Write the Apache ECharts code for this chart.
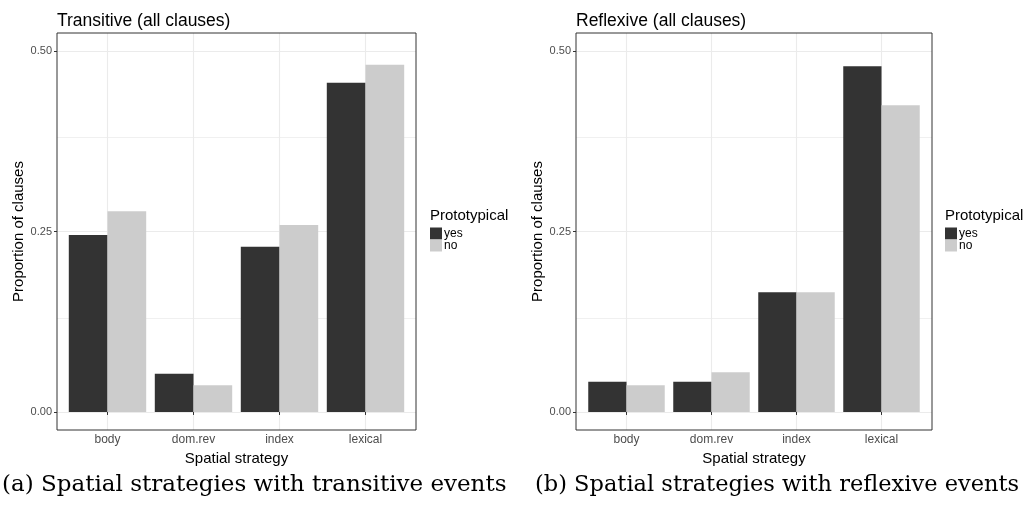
<!DOCTYPE html>
<html>
<head>
<meta charset="utf-8">
<script src="https://cdn.jsdelivr.net/npm/echarts@6/dist/echarts.min.js"></script>
<style>
html,body{margin:0;padding:0;background:#fff;}
#chart{width:1028px;height:506px;}
</style>
</head>
<body>
<div id="chart"></div>
<script>
// ---- data ----
const categories = ['body', 'dom.rev', 'index', 'lexical'];
const transitiveYes = [0.245, 0.053, 0.229, 0.456];
const transitiveNo  = [0.278, 0.037, 0.259, 0.481];
const reflexiveYes  = [0.042, 0.042, 0.166, 0.479];
const reflexiveNo   = [0.037, 0.055, 0.166, 0.425];
const yTicks = [0, 0.25, 0.5];
const yMinor = [0.125, 0.375];
const panelTitles = ['Transitive (all clauses)', 'Reflexive (all clauses)'];
const captions = ['(a) Spatial strategies with transitive events', '(b) Spatial strategies with reflexive events'];
const legendTitle = 'Prototypical';
const seriesNames = ['yes', 'no'];
const xTitle = 'Spatial strategy';
const yTitle = 'Proportion of clauses';

const COLORS = { yes: '#333333', no: '#cccccc' };
const Y_MIN = -0.025, Y_MAX = 0.525;
const SANS = '"Liberation Sans", Arial, Helvetica, sans-serif';

const panels = [
  { outerLeft: 57, outerWidth: 359, innerInset: 7.5, yes: transitiveYes, no: transitiveNo, legendLeft: 430, captionX: 2, captionSize: 23 },
  { outerLeft: 576, outerWidth: 356, innerInset: 8, yes: reflexiveYes, no: reflexiveNo, legendLeft: 945, captionX: 535, captionSize: 22.5 }
];
const TOP = 33, HEIGHT = 397;

const grid = [], xAxis = [], yAxis = [], series = [], title = [], legend = [], graphic = [];

panels.forEach((p, i) => {
  const gOuter = grid.length;
  grid.push({ left: p.outerLeft, top: TOP, width: p.outerWidth, height: HEIGHT, show: true,
    borderColor: '#333333', borderWidth: 1, backgroundColor: 'transparent', z: 3 });
  const gInner = grid.length;
  grid.push({ left: p.outerLeft + p.innerInset, top: TOP, width: p.outerWidth - 2 * p.innerInset, height: HEIGHT, show: false });

  // outer axes
  const xo = xAxis.length;
  xAxis.push({ gridIndex: gOuter, type: 'value', min: 0, max: 1, show: false });
  const yo = yAxis.length;
  yAxis.push({ gridIndex: gOuter, type: 'value', min: Y_MIN, max: Y_MAX,
    axisLine: { show: false },
    splitLine: { show: false },
    axisTick: { show: true, customValues: yTicks, length: 3, lineStyle: { color: '#333333', width: 1 } },
    axisLabel: { show: true, customValues: yTicks, margin: 5, color: '#4d4d4d', fontSize: 11, fontFamily: SANS,
      formatter: v => v.toFixed(2) },
    name: yTitle, nameLocation: 'middle', nameRotate: 90, nameGap: 31,
    nameTextStyle: { color: '#000', fontSize: 15, fontFamily: SANS }
  });
  // inner axes
  const xi = xAxis.length;
  xAxis.push({ gridIndex: gInner, type: 'category', data: categories, boundaryGap: true,
    axisLine: { show: false },
    axisTick: { show: true, alignWithLabel: true, length: 3, lineStyle: { color: '#333333', width: 1 } },
    axisLabel: { color: '#4d4d4d', fontSize: 12, fontFamily: SANS, margin: 4 },
    splitLine: { show: false },
    name: xTitle, nameLocation: 'middle', nameGap: 14,
    nameTextStyle: { color: '#000', fontSize: 15, fontFamily: SANS }
  });
  const yi = yAxis.length;
  yAxis.push({ gridIndex: gInner, type: 'value', min: Y_MIN, max: Y_MAX, show: false });

  // gridlines (behind bars)
  series.push({ type: 'line', xAxisIndex: xo, yAxisIndex: yo, data: [], z: 0, silent: true,
    markLine: { silent: true, z: 0, symbol: 'none', label: { show: false }, animation: false,
      data: yTicks.map(v => ({ yAxis: v, lineStyle: { color: '#ebebeb', width: 1.1, type: 'solid' } }))
        .concat(yMinor.map(v => ({ yAxis: v, lineStyle: { color: '#f0f0f0', width: 1, type: 'solid' } })))
    }
  });
  series.push({ type: 'line', xAxisIndex: xi, yAxisIndex: yi, data: [], z: 0, silent: true,
    markLine: { silent: true, z: 0, symbol: 'none', label: { show: false }, animation: false,
      data: categories.map(c => ({ xAxis: c, lineStyle: { color: '#ebebeb', width: 1.1, type: 'solid' } }))
    }
  });
  // bars
  [['yes', p.yes], ['no', p.no]].forEach(([name, vals]) => {
    series.push({ type: 'bar', name: name, xAxisIndex: xi, yAxisIndex: yi, data: vals, z: 2,
      barGap: '0%', barCategoryGap: '10%', itemStyle: { color: COLORS[name] }, animation: false });
  });

  title.push({ text: panelTitles[i], left: p.outerLeft, top: 12, padding: 0,
    textStyle: { fontSize: 17.5, fontWeight: 'normal', color: '#000', fontFamily: SANS } });

  legend.push({ data: seriesNames, left: p.legendLeft, top: 227.5, orient: 'vertical', padding: 0,
    itemWidth: 12, itemHeight: 12, itemGap: 0, icon: 'rect', selectedMode: false,
    textStyle: { fontSize: 12, color: '#000', fontFamily: SANS, lineHeight: 12, padding: [0, 0, 0, -3] } });

  graphic.push({ type: 'text', left: p.legendLeft, top: 208,
    style: { text: legendTitle, fontSize: 15, fill: '#000', fontFamily: SANS } });
  graphic.push({ type: 'text', x: p.captionX, y: 485,
    style: { text: captions[i], fontSize: p.captionSize, fill: '#000', fontFamily: '"DejaVu Serif", serif', verticalAlign: 'middle' } });
});

const chart = echarts.init(document.getElementById('chart'), null, { renderer: 'canvas' });
chart.setOption({ animation: false, backgroundColor: '#ffffff', title, grid, xAxis, yAxis, legend, series, graphic });
</script>
</body>
</html>
